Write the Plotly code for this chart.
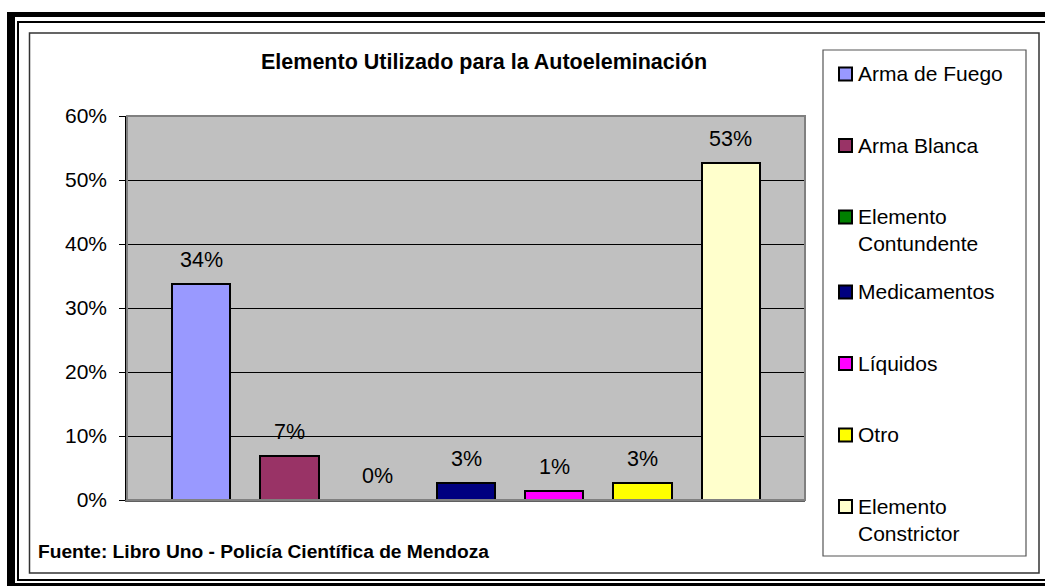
import plotly.graph_objects as go

# ---- data ----
categories = ["Arma de Fuego", "Arma Blanca", "Elemento Contundente", "Medicamentos",
              "Líquidos", "Otro", "Elemento Constrictor"]
legend_labels = ["Arma de Fuego", "Arma Blanca", "Elemento<br>Contundente", "Medicamentos",
                 "Líquidos", "Otro", "Elemento<br>Constrictor"]
values = [0.338, 0.068, 0.0, 0.027, 0.014, 0.027, 0.527]
colors = ["#9999FF", "#993366", "#008000", "#000080", "#FF00FF", "#FFFF00", "#FFFFCC"]
y_ticks = [0, 0.1, 0.2, 0.3, 0.4, 0.5, 0.6]
title_text = "Elemento Utilizado para la Autoeleminación"
source_text = "Fuente: Libro Uno - Policía Científica de Mendoza"

W, H = 1045, 586
FONT = "Arial, Liberation Sans, sans-serif"


def X(px):
    return px / W


def Y(py):
    return 1 - py / H


fig = go.Figure()
for i, (cat, val, col) in enumerate(zip(categories, values, colors)):
    fig.add_trace(go.Bar(
        x=[i], y=[val], name=cat, width=0.66,
        marker=dict(color=col, line=dict(color="black", width=2)),
        showlegend=False, hoverinfo="name+y",
    ))

annotations = []
for i, val in enumerate(values):
    annotations.append(dict(
        x=i, y=val, xref="x", yref="y", text=f"{val:.0%}", showarrow=False,
        yshift=24, font=dict(family=FONT, size=21.5, color="black"),
    ))

# title and source
annotations.append(dict(x=X(484), y=Y(62), xref="paper", yref="paper", text=f"<b>{title_text}</b>",
                        showarrow=False, xanchor="center", yanchor="middle",
                        font=dict(family=FONT, size=21.5, color="black")))
annotations.append(dict(x=X(36), y=Y(551), xref="paper", yref="paper", text=f"<b>{source_text}</b>",
                        showarrow=False, xanchor="left", yanchor="middle",
                        font=dict(family=FONT, size=19.2, color="black")))

shapes = []
# outer double border
shapes.append(dict(type="rect", xref="paper", yref="paper", x0=X(7), x1=X(1046), y0=Y(12), y1=Y(17),
                   fillcolor="black", line=dict(width=0)))
shapes.append(dict(type="rect", xref="paper", yref="paper", x0=X(7), x1=X(15), y0=Y(12), y1=Y(587),
                   fillcolor="black", line=dict(width=0)))
shapes.append(dict(type="rect", xref="paper", yref="paper", x0=X(7), x1=X(1046), y0=Y(583), y1=Y(587),
                   fillcolor="black", line=dict(width=0)))
shapes.append(dict(type="rect", xref="paper", yref="paper", x0=X(18), x1=X(1050), y0=Y(22), y1=Y(580),
                   line=dict(color="black", width=2)))
# chart frame
shapes.append(dict(type="rect", xref="paper", yref="paper", x0=X(29.5), x1=X(1039), y0=Y(33), y1=Y(573),
                   line=dict(color="#333333", width=1.5)))
# plot-area border
shapes.append(dict(type="rect", xref="x domain", yref="y domain", x0=0, x1=1, y0=0, y1=1,
                   line=dict(color="#808080", width=2), layer="above"))
# legend box
shapes.append(dict(type="rect", xref="paper", yref="paper", x0=X(823), x1=X(1026), y0=Y(50), y1=Y(556),
                   line=dict(color="#555555", width=1.2)))

# manual legend
cy = 74
for lab, col in zip(legend_labels, colors):
    shapes.append(dict(type="rect", xref="paper", yref="paper", x0=X(839), x1=X(852),
                       y0=Y(cy - 6.5), y1=Y(cy + 6.5), fillcolor=col, line=dict(color="black", width=2)))
    annotations.append(dict(x=X(857), y=Y(cy - 13), xref="paper", yref="paper", text=lab,
                            showarrow=False, xanchor="left", yanchor="top", align="left", borderpad=0,
                            font=dict(family=FONT, size=21, color="black")))
    cy += 71.5 + (3.5 if "<br>" in lab else 0)

fig.update_layout(
    width=W, height=H, autosize=False,
    margin=dict(l=0, r=0, t=0, b=0, pad=0, autoexpand=False),
    paper_bgcolor="white", plot_bgcolor="#C0C0C0",
    barmode="overlay", bargap=0,
    xaxis=dict(domain=[X(127), X(805)], range=[-0.84, 6.84], showticklabels=False,
               showgrid=False, zeroline=False, showline=True, linecolor="#606060", linewidth=2,
               automargin=False, fixedrange=True),
    yaxis=dict(domain=[Y(500), Y(116)], range=[0, 0.6], tickvals=y_ticks, tickformat=".0%",
               showgrid=True, gridcolor="black", gridwidth=1, zeroline=False,
               showline=True, linecolor="black", linewidth=1.5,
               ticks="outside", ticklen=6, tickcolor="black", tickwidth=1,
               ticklabelstandoff=8, automargin=False,
               tickfont=dict(family=FONT, size=21, color="black"), fixedrange=True),
    annotations=annotations, shapes=shapes,
    showlegend=False,
)

fig.write_html(
    "out.html",
    config={"displayModeBar": False},
    post_script="document.body.style.margin='0';document.body.style.padding='0';"
                "document.documentElement.style.overflow='hidden';",
)
